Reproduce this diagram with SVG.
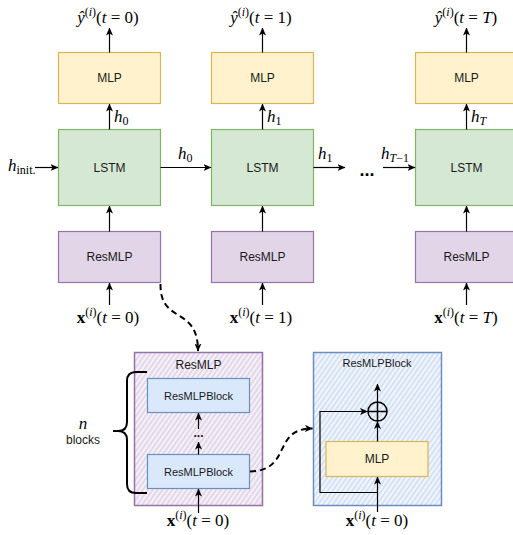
<svg xmlns="http://www.w3.org/2000/svg" width="513" height="535" viewBox="0 0 513 535">
  <defs>
    <style>
      .lbl { font-family: "Liberation Sans", Arial, sans-serif; font-size: 12px; fill: #1a1a1a; text-anchor: middle; dominant-baseline: central; }
      .sm { font-size: 11px; }
      .m { font-family: "Liberation Serif", "Times New Roman", serif; font-size: 17px; fill: #000; }
      .mc { text-anchor: middle; }
      .it { font-style: italic; }
      .bf { font-weight: bold; }
      .mlp { fill: #fff2cc; stroke: #d6b656; stroke-width: 1.2; }
      .lstm { fill: #d5e8d4; stroke: #82b366; stroke-width: 1.2; }
      .res { fill: #e1d5e7; stroke: #9673a6; stroke-width: 1.2; }
      .blk { fill: #dae8fc; stroke: #6c8ebf; stroke-width: 1.2; }
      .wire { fill: none; stroke: #000; stroke-width: 1.2; }
      .dash { fill: none; stroke: #000; stroke-width: 2; stroke-dasharray: 6 4; }
    </style>
    <marker id="arr" viewBox="0 0 8 7" markerWidth="8" markerHeight="7" refX="7.5" refY="3.5" orient="auto" markerUnits="userSpaceOnUse">
      <path d="M0,0 L8,3.5 L0,7 L2,3.5 z" fill="#000"/>
    </marker>
    <pattern id="hatchP" width="4" height="4" patternUnits="userSpaceOnUse" patternTransform="rotate(35)">
      <rect width="4" height="4" fill="#f6f1f8"/>
      <line x1="2" y1="0" x2="2" y2="4" stroke="#d9cbe1" stroke-width="1.3"/>
    </pattern>
    <pattern id="hatchB" width="4" height="4" patternUnits="userSpaceOnUse" patternTransform="rotate(35)">
      <rect width="4" height="4" fill="#f1f6fd"/>
      <line x1="2" y1="0" x2="2" y2="4" stroke="#c6d8f3" stroke-width="1.3"/>
    </pattern>
  </defs>

  <rect width="513" height="535" fill="#fff"/>

  <!-- step t = 0 -->
  <g id="mlp0"><rect class="mlp" x="58.5" y="52.5" width="102" height="51"/><text class="lbl" x="109.5" y="78">MLP</text></g>
  <g id="lstm0"><rect class="lstm" x="58.5" y="129.5" width="102" height="76"/><text class="lbl" x="109.5" y="167.5">LSTM</text></g>
  <g id="resmlp0"><rect class="res" x="58.5" y="231.5" width="102" height="51"/><text class="lbl" x="109.5" y="257">ResMLP</text></g>

  <!-- step t = 1 -->
  <g id="mlp1"><rect class="mlp" x="211.5" y="52.5" width="102" height="51"/><text class="lbl" x="262.5" y="78">MLP</text></g>
  <g id="lstm1"><rect class="lstm" x="211.5" y="129.5" width="102" height="76"/><text class="lbl" x="262.5" y="167.5">LSTM</text></g>
  <g id="resmlp1"><rect class="res" x="211.5" y="231.5" width="102" height="51"/><text class="lbl" x="262.5" y="257">ResMLP</text></g>

  <!-- step t = T -->
  <g id="mlpT"><rect class="mlp" x="415.5" y="52.5" width="102" height="51"/><text class="lbl" x="466.5" y="78">MLP</text></g>
  <g id="lstmT"><rect class="lstm" x="415.5" y="129.5" width="102" height="76"/><text class="lbl" x="466.5" y="167.5">LSTM</text></g>
  <g id="resmlpT"><rect class="res" x="415.5" y="231.5" width="102" height="51"/><text class="lbl" x="466.5" y="257">ResMLP</text></g>

  <!-- expanded ResMLP -->
  <g id="resmlp-detail">
    <rect x="134.5" y="352.5" width="128" height="153" fill="url(#hatchP)" stroke="#9673a6" stroke-width="1.5"/>
    <text class="lbl" x="198.5" y="365">ResMLP</text>
  </g>
  <g id="block-top"><rect class="blk" x="147.5" y="378.5" width="102" height="34"/><text class="lbl sm" x="198.5" y="395.5">ResMLPBlock</text></g>
  <g id="block-bottom"><rect class="blk" x="147.5" y="454.5" width="102" height="34"/><text class="lbl sm" x="198.5" y="471.5">ResMLPBlock</text></g>
  <g id="block-dots"><text class="lbl" x="198.5" y="433" font-weight="bold">...</text></g>
  <g id="brace">
    <path d="M147,372 L136,372 Q127,372 127,381 L127,422 Q127,431 118,431 L113,431 M118,431 Q127,431 127,440 L127,484 Q127,493 136,493 L147,493" fill="none" stroke="#000" stroke-width="2"/>
    <text class="m mc it" x="83" y="429">n</text>
    <text class="lbl" x="83" y="440">blocks</text>
  </g>

  <!-- expanded ResMLPBlock -->
  <g id="block-detail">
    <rect x="313.5" y="352.5" width="128" height="153" fill="url(#hatchB)" stroke="#6c8ebf" stroke-width="1.5"/>
    <text class="lbl sm" x="377" y="363">ResMLPBlock</text>
  </g>
  <g id="block-mlp"><rect class="mlp" x="326" y="441.5" width="102" height="35"/><text class="lbl" x="377" y="459">MLP</text></g>
  <g id="sum">
    <circle cx="377.5" cy="411.5" r="9.5" fill="none" stroke="#000" stroke-width="1.5"/>
    <path d="M368,411.5 H387 M377.5,402 V421" stroke="#000" stroke-width="1.5"/>
  </g>

  <!-- connectors -->
  <g id="connectors">
    <!-- outputs -->
    <path class="wire" d="M109.5,52.5 V28" marker-end="url(#arr)"/>
    <path class="wire" d="M262.5,52.5 V28" marker-end="url(#arr)"/>
    <path class="wire" d="M466.5,52.5 V28" marker-end="url(#arr)"/>
    <!-- LSTM to MLP -->
    <path class="wire" d="M109.5,129.5 V104" marker-end="url(#arr)"/>
    <path class="wire" d="M262.5,129.5 V104" marker-end="url(#arr)"/>
    <path class="wire" d="M466.5,129.5 V104" marker-end="url(#arr)"/>
    <!-- ResMLP to LSTM -->
    <path class="wire" d="M109.5,231.5 V206" marker-end="url(#arr)"/>
    <path class="wire" d="M262.5,231.5 V206" marker-end="url(#arr)"/>
    <path class="wire" d="M466.5,231.5 V206" marker-end="url(#arr)"/>
    <!-- inputs -->
    <path class="wire" d="M109.5,305 V283" marker-end="url(#arr)"/>
    <path class="wire" d="M262.5,305 V283" marker-end="url(#arr)"/>
    <path class="wire" d="M466.5,305 V283" marker-end="url(#arr)"/>
    <!-- hidden state chain -->
    <path class="wire" d="M35,167.5 H58" marker-end="url(#arr)"/>
    <path class="wire" d="M160.5,167.5 H211" marker-end="url(#arr)"/>
    <path class="wire" d="M313.5,167.5 H345" marker-end="url(#arr)"/>
    <path class="wire" d="M383,167.5 H415" marker-end="url(#arr)"/>
    <!-- inside ResMLP -->
    <path class="wire" d="M198.5,513 V489" marker-end="url(#arr)"/>
    <path class="wire" d="M198.5,454.5 V442" marker-end="url(#arr)"/>
    <path class="wire" d="M198.5,429 V413" marker-end="url(#arr)"/>
    <!-- inside ResMLPBlock -->
    <path class="wire" d="M377.5,512 V477" marker-end="url(#arr)"/>
    <path class="wire" d="M377.5,441.5 V421.5" marker-end="url(#arr)"/>
    <path class="wire" d="M377.5,402 V384" marker-end="url(#arr)"/>
    <path class="wire" d="M377.5,492.5 H320 V411.5 H367.5" marker-end="url(#arr)"/>
    <!-- zoom links -->
    <path class="dash" d="M160.5,284 C160,325 198,305 198,351" marker-end="url(#arr)"/>
    <path class="dash" d="M250,471.5 C292,471 272,428 312.5,428.5" marker-end="url(#arr)"/>
  </g>

  <!-- hidden state dots -->
  <text x="367" y="176" font-family="Liberation Sans, Arial, sans-serif" font-size="18" font-weight="bold" text-anchor="middle">...</text>

  <!-- math labels -->
  <g id="labels">
    <text class="m mc" x="108" y="23"><tspan class="it">ŷ</tspan><tspan font-size="12" dy="-7">(<tspan class="it">i</tspan>)</tspan><tspan dy="7">(<tspan class="it">t</tspan> = 0)</tspan></text>
    <text class="m mc" x="261" y="23"><tspan class="it">ŷ</tspan><tspan font-size="12" dy="-7">(<tspan class="it">i</tspan>)</tspan><tspan dy="7">(<tspan class="it">t</tspan> = 1)</tspan></text>
    <text class="m mc" x="466" y="23"><tspan class="it">ŷ</tspan><tspan font-size="12" dy="-7">(<tspan class="it">i</tspan>)</tspan><tspan dy="7">(<tspan class="it">t</tspan> = <tspan class="it">T</tspan>)</tspan></text>

    <text class="m mc" x="108" y="323"><tspan class="bf">x</tspan><tspan font-size="12" dy="-7">(<tspan class="it">i</tspan>)</tspan><tspan dy="7">(<tspan class="it">t</tspan> = 0)</tspan></text>
    <text class="m mc" x="261" y="323"><tspan class="bf">x</tspan><tspan font-size="12" dy="-7">(<tspan class="it">i</tspan>)</tspan><tspan dy="7">(<tspan class="it">t</tspan> = 1)</tspan></text>
    <text class="m mc" x="466" y="323"><tspan class="bf">x</tspan><tspan font-size="12" dy="-7">(<tspan class="it">i</tspan>)</tspan><tspan dy="7">(<tspan class="it">t</tspan> = <tspan class="it">T</tspan>)</tspan></text>
    <text class="m mc" x="198" y="526"><tspan class="bf">x</tspan><tspan font-size="12" dy="-7">(<tspan class="it">i</tspan>)</tspan><tspan dy="7">(<tspan class="it">t</tspan> = 0)</tspan></text>
    <text class="m mc" x="377" y="526"><tspan class="bf">x</tspan><tspan font-size="12" dy="-7">(<tspan class="it">i</tspan>)</tspan><tspan dy="7">(<tspan class="it">t</tspan> = 0)</tspan></text>

    <text class="m" x="114" y="122"><tspan class="it">h</tspan><tspan font-size="12" dy="3">0</tspan></text>
    <text class="m" x="267" y="122"><tspan class="it">h</tspan><tspan font-size="12" dy="3">1</tspan></text>
    <text class="m" x="471" y="122"><tspan class="it">h</tspan><tspan font-size="12" dy="3" class="it">T</tspan></text>

    <text class="m" x="178" y="159"><tspan class="it">h</tspan><tspan font-size="12" dy="3">0</tspan></text>
    <text class="m" x="318" y="159"><tspan class="it">h</tspan><tspan font-size="12" dy="3">1</tspan></text>
    <text class="m" x="381" y="159"><tspan class="it">h</tspan><tspan font-size="12" dy="3"><tspan class="it">T</tspan>−1</tspan></text>
    <text class="m" x="8" y="171"><tspan class="it">h</tspan><tspan font-size="12" dy="3">init.</tspan></text>
  </g>
</svg>
